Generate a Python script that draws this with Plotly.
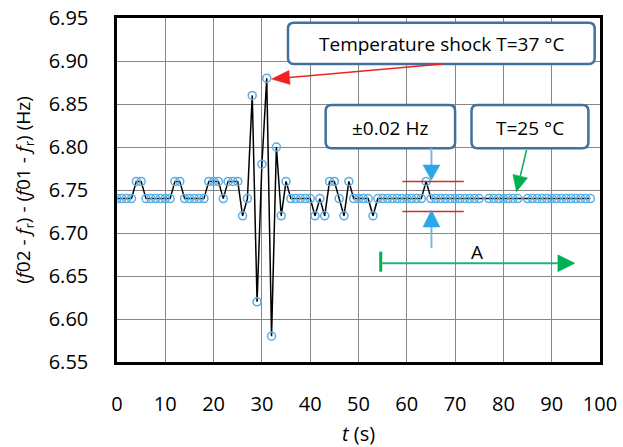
import plotly.graph_objects as go

# ---------------- data ----------------
t_s = [0, 1, 2, 3, 4, 5, 6, 7, 8, 9, 10, 11, 12, 13, 14, 15, 16, 17, 18, 19,
       20, 21, 22, 23, 24, 25, 26, 27, 28, 29, 30, 31, 32, 33, 34, 35, 36, 37, 38, 39,
       40, 41, 42, 43, 44, 45, 46, 47, 48, 49, 50, 51, 52, 53, 54, 55, 56, 57, 58, 59,
       60, 61, 62, 63, 64, 65, 66, 67, 68, 69, 70, 71, 72, 73, 74, 75, 77, 78, 79,
       80, 81, 82, 83, 85, 86, 87, 88, 89, 90, 91, 92, 93, 94, 95, 96, 97, 98]
df_hz = [6.74, 6.74, 6.74, 6.74, 6.76, 6.76, 6.74, 6.74, 6.74, 6.74, 6.74, 6.74, 6.76, 6.76, 6.74, 6.74, 6.74, 6.74, 6.74, 6.76,
         6.76, 6.76, 6.74, 6.76, 6.76, 6.76, 6.72, 6.74, 6.86, 6.62, 6.78, 6.88, 6.58, 6.80, 6.72, 6.76, 6.74, 6.74, 6.74, 6.74,
         6.74, 6.72, 6.74, 6.72, 6.76, 6.76, 6.74, 6.72, 6.76, 6.74, 6.74, 6.74, 6.74, 6.72, 6.74, 6.74, 6.74, 6.74, 6.74, 6.74,
         6.74, 6.74, 6.74, 6.74, 6.76, 6.74, 6.74, 6.74, 6.74, 6.74, 6.74, 6.74, 6.74, 6.74, 6.74, 6.74, 6.74, 6.74, 6.74,
         6.74, 6.74, 6.74, 6.74, 6.74, 6.74, 6.74, 6.74, 6.74, 6.74, 6.74, 6.74, 6.74, 6.74, 6.74, 6.74, 6.74, 6.74]
x_ticks = [0, 10, 20, 30, 40, 50, 60, 70, 80, 90, 100]
y_ticks = [6.55, 6.60, 6.65, 6.70, 6.75, 6.80, 6.85, 6.90, 6.95]

# ---------------- layout constants ----------------
W, H = 623, 447
ML, MR, MT, MB = 117, 23, 18, 85
XR = (0, 100)
YR = (6.55, 6.95)
SX = (W - ML - MR) / (XR[1] - XR[0])   # px per second
SY = (H - MT - MB) / (YR[1] - YR[0])   # px per Hz
FONT = "Open Sans"

fig = go.Figure()
fig.add_trace(go.Scatter(
    x=t_s, y=df_hz, mode="lines+markers",
    line=dict(color="black", width=1.5),
    marker=dict(symbol="circle-open", size=8, color="#5AAEE0", line=dict(width=1.5)),
    showlegend=False, hoverinfo="skip"))

shapes = []
annotations = []


def rrect(x0, y0, x1, y1, rpx=6):
    rx, ry = rpx / SX, rpx / SY
    return (f"M {x0+rx},{y1} L {x1-rx},{y1} Q {x1},{y1} {x1},{y1-ry} "
            f"L {x1},{y0+ry} Q {x1},{y0} {x1-rx},{y0} L {x0+rx},{y0} "
            f"Q {x0},{y0} {x0},{y0+ry} L {x0},{y1-ry} Q {x0},{y1} {x0+rx},{y1} Z")


def box(x0, y0, x1, y1, text, size=19):
    shapes.append(dict(type="path", path=rrect(x0, y0, x1, y1), xref="x", yref="y",
                       line=dict(color="#41719C", width=2.5), fillcolor="white", layer="above"))
    annotations.append(dict(x=(x0 + x1) / 2, y=(y0 + y1) / 2, xref="x", yref="y", text=text,
                            showarrow=False, font=dict(family=FONT, size=size, color="black"),
                            yshift=-1))


def arrow(xt, yt, xh, yh, lcol, hcol, lw, L, Wd):
    # tail (xt,yt) -> tip (xh,yh); head length L, width Wd in px
    pxt, pyt = xt * SX, -yt * SY
    pxh, pyh = xh * SX, -yh * SY
    dx, dy = pxh - pxt, pyh - pyt
    n = (dx * dx + dy * dy) ** 0.5
    ux, uy = dx / n, dy / n
    bx, by = pxh - ux * L, pyh - uy * L
    qx, qy = -uy, ux
    c1 = (bx + qx * Wd / 2, by + qy * Wd / 2)
    c2 = (bx - qx * Wd / 2, by - qy * Wd / 2)
    to_d = lambda p: (p[0] / SX, -p[1] / SY)
    b = to_d((bx, by))
    shapes.append(dict(type="line", x0=xt, y0=yt, x1=b[0], y1=b[1], xref="x", yref="y",
                       line=dict(color=lcol, width=lw), layer="above"))
    a1, a2 = to_d(c1), to_d(c2)
    shapes.append(dict(type="path", xref="x", yref="y", layer="above",
                       path=f"M {xh},{yh} L {a1[0]},{a1[1]} L {a2[0]},{a2[1]} Z",
                       fillcolor=hcol, line=dict(color=hcol, width=0.5)))


# boxes
box(35.4, 6.8965, 98.9, 6.9445, "Temperature shock T=37 °C")
box(43.2, 6.7985, 70.0, 6.8488, "±0.02 Hz")
box(73.4, 6.7985, 97.6, 6.8488, "T=25 °C")

# red arrow to peak
arrow(67.4, 6.8965, 32.0, 6.879, "#EE2222", "#EE2222", 1.5, 18, 14)

# tolerance lines
for yv in (6.76, 6.725):
    shapes.append(dict(type="line", x0=59.1, x1=71.8, y0=yv, y1=yv, xref="x", yref="y",
                       line=dict(color="#D92B2B", width=1.5), layer="above"))

# blue arrows
arrow(65.1, 6.7988, 65.1, 6.7616, "#7EB6DE", "#2CA7E6", 2, 15, 17)
arrow(65.1, 6.6826, 65.1, 6.7267, "#7EB6DE", "#2CA7E6", 2, 17, 17)

# green arrow to steady state
arrow(84.8, 6.7965, 82.7, 6.748, "#00B050", "#00B050", 1.5, 16, 15)

# arrow A
shapes.append(dict(type="line", x0=54.6, x1=54.6, y0=6.6783, y1=6.655, xref="x", yref="y",
                   line=dict(color="#00B050", width=3), layer="above"))
arrow(54.6, 6.6648, 94.8, 6.6648, "#20B27A", "#00B050", 2, 17, 17)
annotations.append(dict(x=74.5, y=6.678, xref="x", yref="y", text="A", showarrow=False,
                        font=dict(family=FONT, size=19, color="black")))

fig.update_layout(
    width=W, height=H,
    margin=dict(l=ML, r=MR, t=MT, b=MB, autoexpand=False),
    paper_bgcolor="white", plot_bgcolor="white",
    font=dict(family=FONT, color="black"),
    shapes=shapes, annotations=annotations,
    xaxis=dict(range=list(XR), tickvals=x_ticks, ticktext=[str(v) for v in x_ticks],
               showgrid=True, gridcolor="#868686", gridwidth=1, automargin=False,
               showline=True, mirror=True, linecolor="black", linewidth=2.5,
               ticks="", ticklabelstandoff=22, tickfont=dict(size=20, family=FONT),
               zeroline=False,
               title=dict(text="<i>t</i> (s)", font=dict(size=20, family=FONT), standoff=14)),
    yaxis=dict(range=list(YR), tickvals=y_ticks, ticktext=[f"{v:.2f}" for v in y_ticks],
               showgrid=True, gridcolor="#868686", gridwidth=1, automargin=False,
               showline=True, mirror=True, linecolor="black", linewidth=2.5,
               ticks="", ticklabelstandoff=22, tickfont=dict(size=20, family=FONT),
               zeroline=False,
               title=dict(text="(<i>f</i>02 - <i>f</i><sub>r</sub>) - (<i>f</i>01 - <i>f</i><sub>r</sub>) (Hz)",
                          font=dict(size=19, family=FONT), standoff=14)),
)

fig.write_html("out.html")
